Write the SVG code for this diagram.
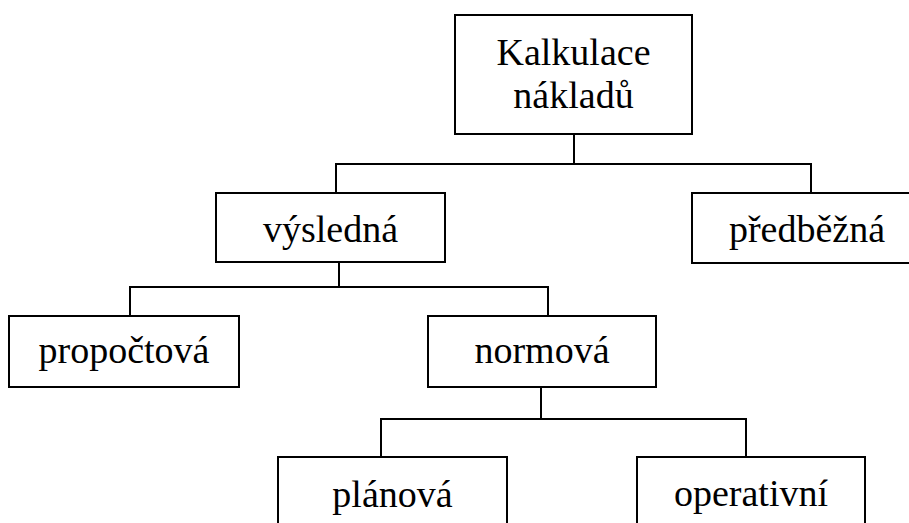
<svg xmlns="http://www.w3.org/2000/svg" width="909" height="523" viewBox="0 0 909 523">
<style>
.box{fill:#fff;stroke:#000;stroke-width:2}
.lbl{font-family:'Times New Roman',Tinos,'Liberation Serif','Noto Serif','DejaVu Serif',FreeSerif,serif;font-size:38px;fill:#000;text-anchor:middle}
.con{fill:none;stroke:#000;stroke-width:2}
</style>
<rect width="909" height="523" fill="#fff"/>
<g id="connectors">
<path class="con" d="M574 134V164M336 193V164H811V193"/>
<path class="con" d="M339 261V287M130 316V287H548V316"/>
<path class="con" d="M541 387V419M381 457V419H746V457"/>
</g>
<g id="n-kalkulace">
<rect class="box" x="455" y="15" width="237" height="119"/>
<text class="lbl" x="573.5" y="65">Kalkulace</text>
<text class="lbl" x="573.5" y="108">nákladů</text>
</g>
<g id="n-vysledna">
<rect class="box" x="216" y="193" width="229" height="69"/>
<text class="lbl" x="330.5" y="242">výsledná</text>
</g>
<g id="n-predbezna">
<rect class="box" x="692" y="193" width="230" height="70"/>
<text class="lbl" x="807" y="242">předběžná</text>
</g>
<g id="n-propoctova">
<rect class="box" x="9" y="316" width="230" height="71"/>
<text class="lbl" x="124" y="363">propočtová</text>
</g>
<g id="n-normova">
<rect class="box" x="428" y="316" width="228" height="71"/>
<text class="lbl" x="542" y="363">normová</text>
</g>
<g id="n-planova">
<rect class="box" x="278" y="457" width="229" height="75"/>
<text class="lbl" x="392.5" y="507">plánová</text>
</g>
<g id="n-operativni">
<rect class="box" x="637" y="457" width="228" height="75"/>
<text class="lbl" x="751" y="506">operativní</text>
</g>
</svg>
